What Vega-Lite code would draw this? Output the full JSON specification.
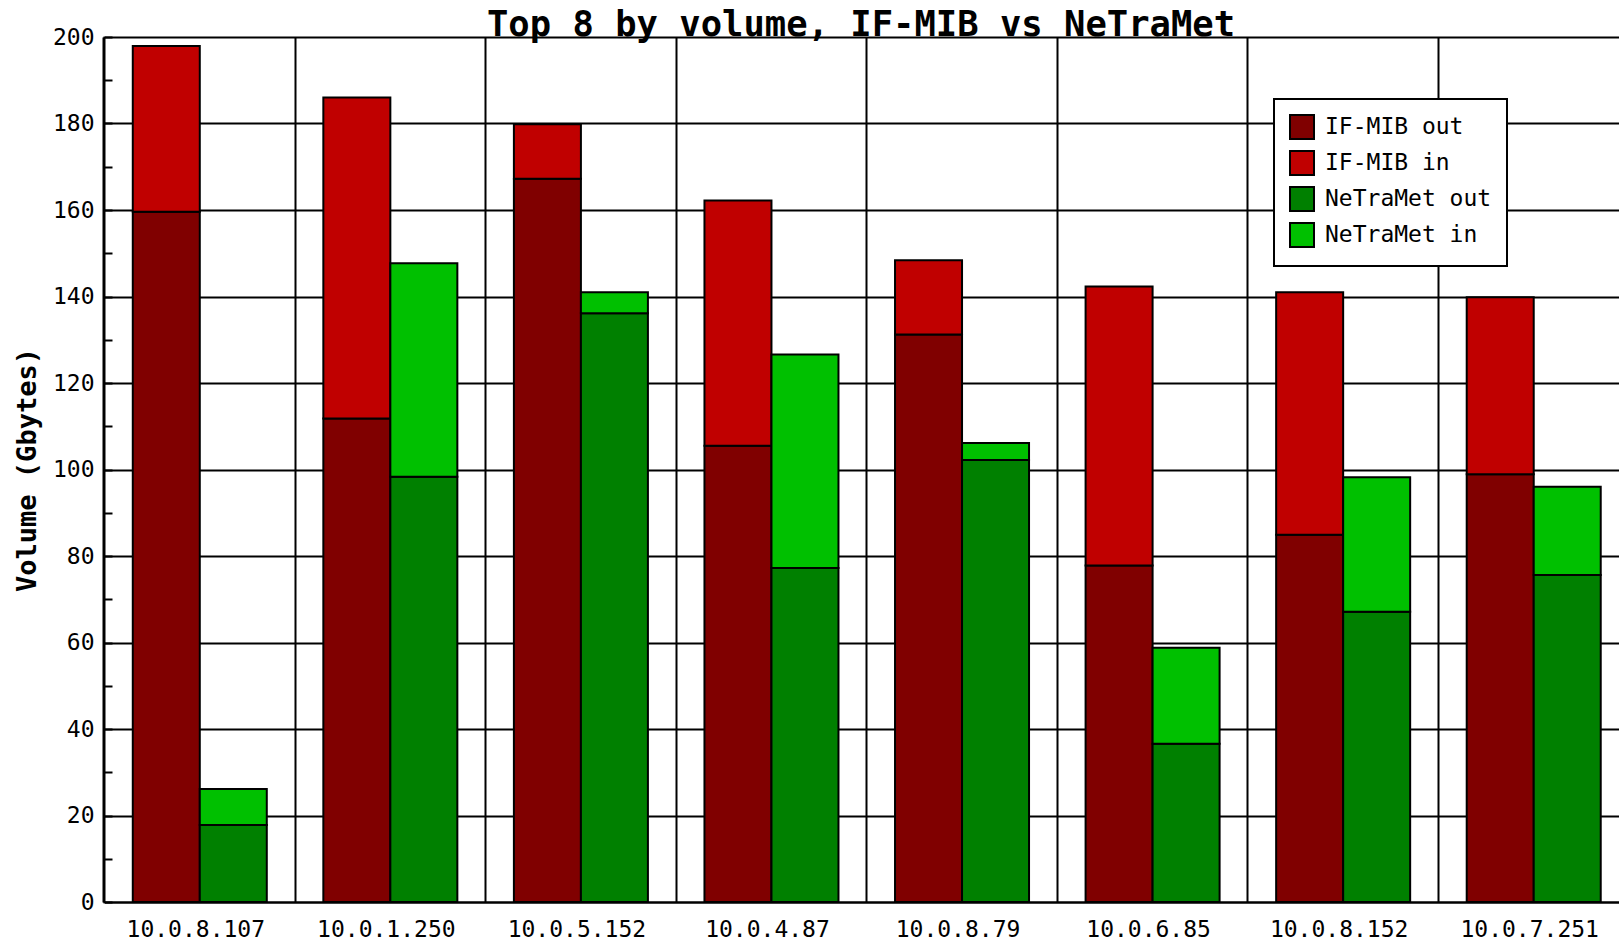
{
  "$schema": "https://vega.github.io/schema/vega-lite/v6.json",
  "width": 1516,
  "height": 865,
  "autosize": {"type": "none"},
  "padding": {"left": 103, "top": 37, "right": 0, "bottom": 40},
  "background": "white",
  "title": {
    "text": "Top 8 by volume, IF-MIB vs NeTraMet",
    "font": "DejaVu Sans Mono",
    "fontSize": 35.5,
    "fontWeight": "bold",
    "color": "black",
    "anchor": "middle",
    "offset": 4,
    "baseline": "alphabetic",
    "dy": 49
  },
  "data": {
    "values": [
      {"host": "10.0.8.107", "source": "IF-MIB", "dir": "out", "series": "IF-MIB out", "gb": 159.6},
      {"host": "10.0.8.107", "source": "IF-MIB", "dir": "in", "series": "IF-MIB in", "gb": 38.3},
      {"host": "10.0.8.107", "source": "NeTraMet", "dir": "out", "series": "NeTraMet out", "gb": 17.8},
      {"host": "10.0.8.107", "source": "NeTraMet", "dir": "in", "series": "NeTraMet in", "gb": 8.3},
      {"host": "10.0.1.250", "source": "IF-MIB", "dir": "out", "series": "IF-MIB out", "gb": 111.8},
      {"host": "10.0.1.250", "source": "IF-MIB", "dir": "in", "series": "IF-MIB in", "gb": 74.2},
      {"host": "10.0.1.250", "source": "NeTraMet", "dir": "out", "series": "NeTraMet out", "gb": 98.3},
      {"host": "10.0.1.250", "source": "NeTraMet", "dir": "in", "series": "NeTraMet in", "gb": 49.4},
      {"host": "10.0.5.152", "source": "IF-MIB", "dir": "out", "series": "IF-MIB out", "gb": 167.2},
      {"host": "10.0.5.152", "source": "IF-MIB", "dir": "in", "series": "IF-MIB in", "gb": 12.6},
      {"host": "10.0.5.152", "source": "NeTraMet", "dir": "out", "series": "NeTraMet out", "gb": 136.1},
      {"host": "10.0.5.152", "source": "NeTraMet", "dir": "in", "series": "NeTraMet in", "gb": 4.9},
      {"host": "10.0.4.87", "source": "IF-MIB", "dir": "out", "series": "IF-MIB out", "gb": 105.5},
      {"host": "10.0.4.87", "source": "IF-MIB", "dir": "in", "series": "IF-MIB in", "gb": 56.7},
      {"host": "10.0.4.87", "source": "NeTraMet", "dir": "out", "series": "NeTraMet out", "gb": 77.2},
      {"host": "10.0.4.87", "source": "NeTraMet", "dir": "in", "series": "NeTraMet in", "gb": 49.4},
      {"host": "10.0.8.79", "source": "IF-MIB", "dir": "out", "series": "IF-MIB out", "gb": 131.2},
      {"host": "10.0.8.79", "source": "IF-MIB", "dir": "in", "series": "IF-MIB in", "gb": 17.2},
      {"host": "10.0.8.79", "source": "NeTraMet", "dir": "out", "series": "NeTraMet out", "gb": 102.2},
      {"host": "10.0.8.79", "source": "NeTraMet", "dir": "in", "series": "NeTraMet in", "gb": 3.9},
      {"host": "10.0.6.85", "source": "IF-MIB", "dir": "out", "series": "IF-MIB out", "gb": 77.8},
      {"host": "10.0.6.85", "source": "IF-MIB", "dir": "in", "series": "IF-MIB in", "gb": 64.5},
      {"host": "10.0.6.85", "source": "NeTraMet", "dir": "out", "series": "NeTraMet out", "gb": 36.6},
      {"host": "10.0.6.85", "source": "NeTraMet", "dir": "in", "series": "NeTraMet in", "gb": 22.2},
      {"host": "10.0.8.152", "source": "IF-MIB", "dir": "out", "series": "IF-MIB out", "gb": 84.9},
      {"host": "10.0.8.152", "source": "IF-MIB", "dir": "in", "series": "IF-MIB in", "gb": 56.1},
      {"host": "10.0.8.152", "source": "NeTraMet", "dir": "out", "series": "NeTraMet out", "gb": 67.1},
      {"host": "10.0.8.152", "source": "NeTraMet", "dir": "in", "series": "NeTraMet in", "gb": 31.1},
      {"host": "10.0.7.251", "source": "IF-MIB", "dir": "out", "series": "IF-MIB out", "gb": 98.9},
      {"host": "10.0.7.251", "source": "IF-MIB", "dir": "in", "series": "IF-MIB in", "gb": 40.9},
      {"host": "10.0.7.251", "source": "NeTraMet", "dir": "out", "series": "NeTraMet out", "gb": 75.6},
      {"host": "10.0.7.251", "source": "NeTraMet", "dir": "in", "series": "NeTraMet in", "gb": 20.4}
    ]
  },
  "mark": {"type": "bar", "stroke": "black", "strokeWidth": 2, "strokeOpacity": 1},
  "encoding": {
    "x": {
      "field": "host",
      "type": "nominal",
      "sort": null,
      "scale": {"range": [1.5, 1526], "paddingInner": 0, "paddingOuter": 0},
      "axis": {
        "title": null,
        "bandPosition": 0,
        "labelAngle": 0,
        "labelOffset": -4,
        "labelFont": "DejaVu Sans Mono",
        "labelFontSize": 23,
        "labelColor": "black",
        "labelBaseline": "alphabetic",
        "labelPadding": 34,
        "ticks": false,
        "grid": true,
        "gridColor": "black",
        "gridWidth": 2,
        "gridOpacity": 1,
        "domainColor": "black",
        "domainWidth": 2
      }
    },
    "xOffset": {
      "field": "source",
      "type": "nominal",
      "scale": {"paddingInner": 0, "paddingOuter": 0.422}
    },
    "y": {
      "field": "gb",
      "type": "quantitative",
      "stack": "zero",
      "scale": {"domain": [0, 200], "nice": false},
      "axis": {
        "title": "Volume (Gbytes)",
        "titleFont": "DejaVu Sans Mono",
        "titleFontSize": 27,
        "titleFontWeight": "bold",
        "titleColor": "black",
        "titleX": -76,
        "titleY": 432.5,
        "titleAngle": -90,
        "titleAlign": "center",
        "titleBaseline": "middle",
        "values": [0, 10, 20, 30, 40, 50, 60, 70, 80, 90, 100, 110, 120, 130, 140, 150, 160, 170, 180, 190, 200],
        "labelExpr": "datum.value % 20 === 0 ? datum.label : ''",
        "labelFont": "DejaVu Sans Mono",
        "labelFontSize": 23,
        "labelColor": "black",
        "labelPadding": 18,
        "labelBaseline": "middle",
        "tickSize": -9,
        "tickWidth": 2,
        "tickColor": "black",
        "grid": true,
        "gridColor": "black",
        "gridWidth": 2,
        "gridOpacity": {"expr": "datum.value % 20 === 0 ? 1 : 0"},
        "domainColor": "black",
        "domainWidth": 2
      }
    },
    "color": {
      "field": "series",
      "type": "nominal",
      "scale": {
        "domain": ["IF-MIB out", "IF-MIB in", "NeTraMet out", "NeTraMet in"],
        "range": ["#800000", "#c00000", "#008000", "#00c000"]
      },
      "legend": {
        "title": null,
        "orient": "none",
        "legendX": 1171,
        "legendY": 62,
        "symbolType": "square",
        "symbolSize": 576,
        "symbolStrokeColor": "black",
        "symbolStrokeWidth": 2,
        "symbolOpacity": 1,
        "labelFont": "DejaVu Sans Mono",
        "labelFontSize": 23,
        "labelColor": "black",
        "labelOffset": 10,
        "labelLimit": 400,
        "labelExpr": "datum.label + '  '",
        "rowPadding": 4,
        "padding": 15,
        "fillColor": "white",
        "strokeColor": "black"
      }
    },
    "order": {"field": "dir", "sort": "descending"}
  },
  "config": {
    "view": {"stroke": null},
    "legend": {"strokeWidth": 2}
  }
}
